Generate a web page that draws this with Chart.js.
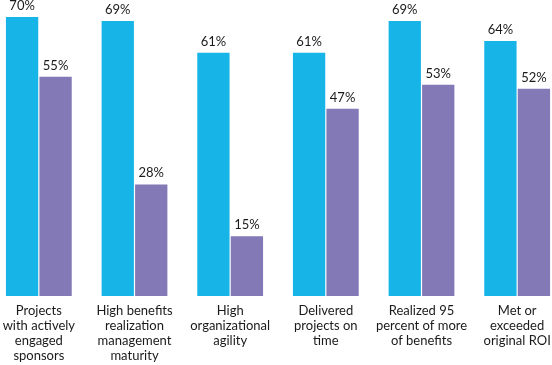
<!DOCTYPE html>
<html>
<head>
<meta charset="utf-8">
<script src="https://cdn.jsdelivr.net/npm/chart.js@4"></script>
<style>
  html, body { margin: 0; padding: 0; background: #fff; overflow: hidden; }
  #wrap { position: absolute; left: -9px; top: 0; width: 574px; height: 365px; }
</style>
</head>
<body>
<div id="wrap"><canvas id="barChart" width="574" height="365"></canvas></div>
<script>
const categories = [
  ['Projects', 'with actively', 'engaged', 'sponsors'],
  ['High benefits', 'realization', 'management', 'maturity'],
  ['High', 'organizational', 'agility'],
  ['Delivered', 'projects on', 'time'],
  ['Realized 95', 'percent of more', 'of benefits'],
  ['Met or', 'exceeded', 'original ROI']
];
const blueValues   = [70, 69, 61, 61, 69, 64];
const purpleValues = [55, 28, 15, 47, 53, 52];

const FONT = "Lato, 'Open Sans', sans-serif";

const labelsPlugin = {
  id: 'labels',
  afterDatasetsDraw(chart) {
    const c = chart.ctx;
    c.save();
    c.fillStyle = '#1a1a1a';
    c.textAlign = 'center';
    c.textBaseline = 'alphabetic';
    c.font = '13px ' + FONT;
    chart.data.datasets.forEach((ds, di) => {
      chart.getDatasetMeta(di).data.forEach((bar, i) => {
        c.fillText(ds.data[i] + '%', bar.x, bar.y - 7);
      });
    });
    // category labels under the bars
    const x = chart.scales.x;
    categories.forEach((lines, i) => {
      const px = x.getPixelForValue(i);
      lines.forEach((t, j) => c.fillText(t, px, 315 + j * 15));
    });
    c.restore();
  }
};

new Chart(document.getElementById('barChart'), {
  type: 'bar',
  plugins: [labelsPlugin],
  data: {
    labels: categories.map(l => l.join(' ')),
    datasets: [
      { data: blueValues, backgroundColor: '#17b4e8', borderWidth: 0,
        categoryPercentage: 0.70, barPercentage: 0.965 },
      { data: purpleValues, backgroundColor: '#8379b6', borderWidth: 0,
        categoryPercentage: 0.70, barPercentage: 0.965 }
    ]
  },
  options: {
    responsive: false,
    animation: false,
    layout: { padding: { top: 17, bottom: 69, left: 0, right: 0 } },
    plugins: { legend: { display: false }, tooltip: { enabled: false } },
    scales: {
      x: { display: false },
      y: { display: false, min: 0, max: 70 }
    }
  }
});
</script>
</body>
</html>
